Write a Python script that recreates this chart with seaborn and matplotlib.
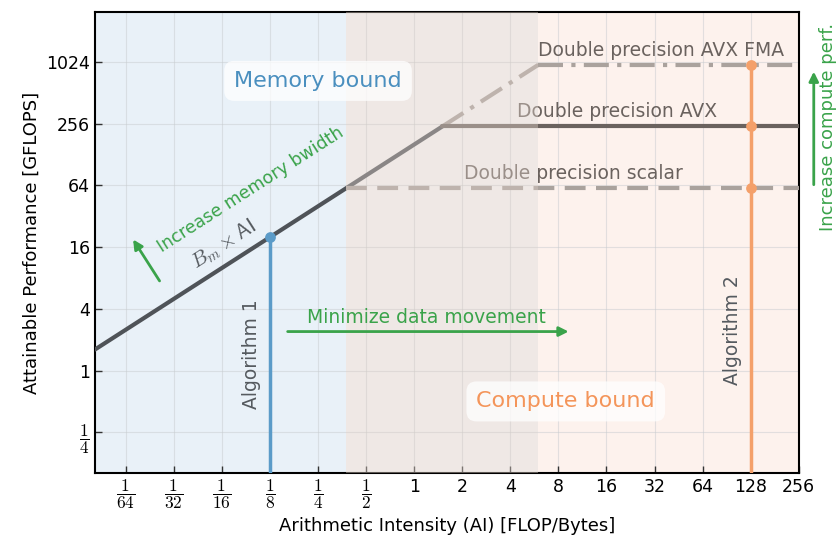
import numpy as np
import pandas as pd
import matplotlib
matplotlib.use('Agg')
import matplotlib.pyplot as plt
import seaborn as sns

# roofline parameters
bandwidth = 160  # GB/s (B_m)
peak_names = ['Double precision scalar', 'Double precision AVX', 'Double precision AVX FMA']
peak_perf = [60, 240, 960]
label_ai = [2.06, 4.4, 6.0]
alg_names = ['Algorithm 1', 'Algorithm 2']
alg_ai = [0.125, 128]
x_ticks = [2.0 ** k for k in range(-6, 9)]
x_labels = [r'$\dfrac{1}{64}$', r'$\dfrac{1}{32}$', r'$\dfrac{1}{16}$', r'$\dfrac{1}{8}$',
            r'$\dfrac{1}{4}$', r'$\dfrac{1}{2}$', '1', '2', '4', '8', '16', '32', '64', '128', '256']
y_ticks = [0.25, 1, 4, 16, 64, 256, 1024]
y_labels = [r'$\dfrac{1}{4}$', '1', '4', '16', '64', '256', '1024']

sns.set_theme(style='ticks')
plt.rcParams['font.family'] = ['DejaVu Sans']
plt.rcParams['mathtext.fontset'] = 'cm'

x_min, x_max = 0.01, 256
ridge = [p / bandwidth for p in peak_perf]

fig = plt.figure(figsize=(8.39, 5.37), dpi=100)
ax = fig.add_axes([0.113, 0.119, 0.839, 0.859])
ax.set_xscale('log', base=2)
ax.set_yscale('log', base=2)

# regions
ax.axvspan(x_min, ridge[0], color='#e9f1f8', zorder=0, lw=0)
ax.axvspan(ridge[2], x_max, color='#fdf2ed', zorder=0, lw=0)
ax.axvspan(ridge[0], ridge[2], color='#dacbc3', alpha=0.43, zorder=5, lw=0)

dark = '#4f5358'
roof = '#6a625e'
light = '#aaa29d'

# memory roof
mem = pd.DataFrame({'ai': [x_min, ridge[1]], 'perf': [bandwidth * x_min, peak_perf[1]]})
sns.lineplot(data=mem, x='ai', y='perf', ax=ax, color=dark, lw=3, zorder=3)
ext = pd.DataFrame({'ai': [ridge[1], ridge[2]], 'perf': [peak_perf[1], peak_perf[2]]})
sns.lineplot(data=ext, x='ai', y='perf', ax=ax, color=light, lw=3, ls=(0, (6, 2, 1, 2)), zorder=3)

# compute roofs
styles = [(0, (5, 2.5)), '-', (0, (6, 2, 1, 2))]
colors = [light, roof, light]
for name, p, r, lx, ls, c in zip(peak_names, peak_perf, ridge, label_ai, styles, colors):
    seg = pd.DataFrame({'ai': [r, x_max], 'perf': [p, p]})
    sns.lineplot(data=seg, x='ai', y='perf', ax=ax, color=c, lw=3, ls=ls, zorder=3)
    ax.text(lx, p * 1.12, name, color=roof, fontsize=13.5, ha='left', va='bottom', zorder=4)

# algorithms
blue = '#5b9bc8'
orange = '#f4a06a'
a1 = pd.DataFrame({'ai': [alg_ai[0], alg_ai[0]], 'perf': [0.05, bandwidth * alg_ai[0]]})
sns.lineplot(data=a1, x='ai', y='perf', ax=ax, color=blue, lw=2.5, zorder=6,
             estimator=None, sort=False)
ax.scatter([alg_ai[0]], [bandwidth * alg_ai[0]], s=60, color=blue, zorder=7, lw=0)
a2 = pd.DataFrame({'ai': [alg_ai[1], alg_ai[1]], 'perf': [0.05, peak_perf[2]]})
sns.lineplot(data=a2, x='ai', y='perf', ax=ax, color=orange, lw=2.5, zorder=6,
             estimator=None, sort=False)
ax.scatter([alg_ai[1]] * 3, peak_perf, s=60, color=orange, zorder=7, lw=0)
ax.text(0.096, 1.43, alg_names[0], rotation=90, color='#555a5f', fontsize=13.5,
        ha='center', va='center', zorder=8)
ax.text(99, 2.5, alg_names[1], rotation=90, color='#555a5f', fontsize=13.5,
        ha='center', va='center', zorder=8)

# annotations
green = '#3aa34a'
angle = np.degrees(np.arctan(30.8 / 48))
ax.text(0.064, 17, r'$B_m \times \mathsf{AI}$', rotation=angle, color='#555a5f',
        fontsize=15, ha='center', va='center', zorder=8)
ax.text(0.094, 58, 'Increase memory bwidth', rotation=angle, color=green,
        fontsize=12.5, ha='center', va='center', zorder=8)
ax.annotate('', xy=(0.017, 20), xytext=(0.026, 7.1),
            arrowprops=dict(arrowstyle='-|>', color=green, lw=2, mutation_scale=14), zorder=8)
ax.text(1.2, 3.3, 'Minimize data movement', color=green, fontsize=13.5,
        ha='center', va='center', zorder=8)
ax.annotate('', xy=(9.65, 2.4), xytext=(0.155, 2.4),
            arrowprops=dict(arrowstyle='-|>', color=green, lw=2, mutation_scale=14), zorder=8)
ax.annotate('', xy=(318, 875), xytext=(318, 61), annotation_clip=False,
            arrowprops=dict(arrowstyle='-|>', color=green, lw=2, mutation_scale=14))
ax.text(388, 238, 'Increase compute perf.', rotation=90, color=green, fontsize=13,
        ha='center', va='center', clip_on=False)

box = dict(boxstyle='round,pad=0.45', fc='white', ec='none', alpha=0.75)
ax.text(0.25, 668, 'Memory bound', color='#4a8fbf', fontsize=16,
        ha='center', va='center', bbox=box, zorder=10)
ax.text(8.9, 0.5, 'Compute bound', color='#f4955a', fontsize=16,
        ha='center', va='center', bbox=box, zorder=10)

ax.set_xlim(x_min, x_max)
ax.set_ylim(0.1, 3150)
ax.set_xticks(x_ticks)
ax.set_xticklabels(x_labels)
ax.set_yticks(y_ticks)
ax.set_yticklabels(y_labels)
ax.minorticks_off()
ax.tick_params(direction='in', length=5, width=1, labelsize=12.5, color='#333333',
               labelcolor='black')
ax.grid(True, color='#c8ccd0', lw=0.8, alpha=0.5, zorder=1)
ax.set_axisbelow(True)
for s in ax.spines.values():
    s.set_color('black')
    s.set_linewidth(1.5)
    s.set_visible(True)
ax.set_xlabel('Arithmetic Intensity (AI) [FLOP/Bytes]', fontsize=13, color='black')
ax.set_ylabel('Attainable Performance [GFLOPS]', fontsize=13, color='black')

fig.savefig('out.png', dpi=100)
